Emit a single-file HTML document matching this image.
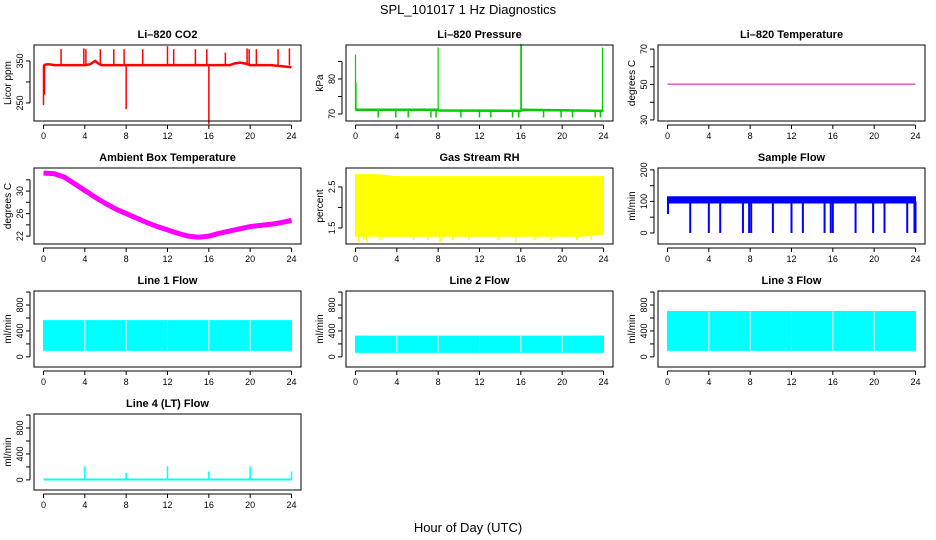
<!DOCTYPE html>
<html><head><meta charset="utf-8">
<style>
html,body{margin:0;padding:0;background:#fff;}
svg{display:block;font-family:"Liberation Sans",Arial,sans-serif;}
</style></head>
<body>
<svg id="c" width="936" height="540" viewBox="0 0 936 540">
<text x="468" y="14" font-size="13" text-anchor="middle">SPL_101017  1 Hz Diagnostics</text>
<text x="468" y="532" font-size="13" text-anchor="middle">Hour of Day (UTC)</text>
</svg>
<script>
// ---- data ----
const hoursXTicks = [0,4,8,12,16,20,24];
const co2BaseHours = [0,0.3,0.6,1,2,3,4,4.5,5,5.3,5.6,6,8,10,12,14,16,18,18.5,19,19.5,20,22,24];
const co2BaseVals  = [340,342,342,340,340,340,340,342,350,344,340,340,340,340,340,340,340,340,344,346,344,340,340,335];
const co2SpikeHours = [0,0.1,1.7,3.9,4.1,5.5,6.8,7.8,8.0,9.6,12.0,12.6,14.7,15.8,16.0,17.6,19.7,19.9,20.6,22.7,23.8];
const co2SpikeVals  = [245,270,378,380,378,378,378,378,235,378,385,378,378,378,200,370,380,378,378,378,380];
const presBaseHours = [0,8,8.1,16,16.1,24];
const presBaseVals  = [71.2,71.2,71.0,70.9,71.2,70.9];
const presSpikeHours = [0,0.05,8.0,16.0,16.05,23.9];
const presSpikeVals  = [87,79,89,90,89.5,89];
const presDipHours = [2.2,3.9,5.1,7.3,7.8,10.2,12.0,13.1,15.2,15.8,18.2,19.9,21.0,23.2,23.7];
const presDipVals  = [69,69,69,69,69,69,69,69,69,69,69,69,69,69,69];
const tempHours = [0,24];
const tempVals  = [50.2,50.2];
const ambHours = [0,1,2,3,4,5,6,7,8,9,10,11,12,13,14,15,16,17,18,19,20,21,22,23,24];
const ambVals  = [33.2,33.1,32.5,31.3,30.1,28.9,27.8,26.8,26.0,25.2,24.4,23.7,23.1,22.5,22.0,21.8,22.0,22.5,22.9,23.3,23.7,23.9,24.1,24.4,24.8];
const rhHours = [0,2,4,6,8,10,12,14,16,18,20,22,24];
const rhHigh  = [2.8,2.8,2.75,2.75,2.75,2.75,2.75,2.75,2.75,2.75,2.75,2.75,2.75];
const rhLow   = [1.3,1.3,1.3,1.3,1.3,1.3,1.3,1.3,1.3,1.3,1.3,1.3,1.35];
const rhDipHours = [0.3,0.8,1.1,2.4,3.5,5.6,7.0,8.2,9.4,11.0,13.8,15.5,17.3,18.9,21.4,22.8];
const rhDipVals  = [1.15,1.2,1.15,1.2,1.25,1.2,1.2,1.15,1.2,1.2,1.2,1.15,1.2,1.2,1.2,1.2];
const sfHours = [0,0.2,24];
const sfLow   = [95,95,95];
const sfHigh  = [115,115,115];
const sfDropHours = [0.05,2.2,4.0,5.1,7.3,7.9,8.1,10.2,12.0,13.1,15.2,15.8,16.0,18.2,19.9,21.0,23.2,23.9,24.0];
const sfDropVals  = [60,0,0,0,0,0,0,0,0,0,0,0,0,0,0,0,0,0,0];
const l1Hours = [0,24];
const l1Low   = [100,100];
const l1High  = [560,560];
const l1GapHours = [4,8,12,16,20];
const l2Hours = [0,24];
const l2Low   = [70,70];
const l2High  = [320,320];
const l2GapHours = [4,8,12,16,20];
const l3Hours = [0,24];
const l3Low   = [100,100];
const l3High  = [700,700];
const l3GapHours = [4,8,12,16,20];
const l4Hours = [0,24];
const l4Vals  = [5,5];
const l4SpikeHours = [4,8,12,16,20,24];
const l4SpikeVals  = [210,110,210,130,210,130];

const svg = document.getElementById('c');
const NS = 'http://www.w3.org/2000/svg';
const COLS=[34,346,658], ROWS=[45,168,291,414], W=267, H=76;
function mk(tag, attrs, parent){const e=document.createElementNS(NS,tag);for(const k in attrs)e.setAttribute(k,attrs[k]);(parent||svg).appendChild(e);return e;}

function panel(name,col,row,title,ylab,ylim,ticks,labels){
  const g=mk('g',{});
  
  
  const L=COLS[col],T=ROWS[row];
  const xs=h=>L+9.5+h*(248/24);
  const ys=v=>T+H-(v-ylim[0])/(ylim[1]-ylim[0])*H;
  const t=mk('text',{x:L+W/2,y:T-7,'font-size':11,'font-weight':'bold','text-anchor':'middle'},g);t.textContent=title;
  
  
  const yt=mk('text',{x:0,y:0,'font-size':10,'text-anchor':'middle',transform:`translate(${L-23},${T+H/2}) rotate(-90)`},g);yt.textContent=ylab;
  
  
  // x axis
  mk('line',{x1:xs(0),x2:xs(24),y1:T+H+4,y2:T+H+4,stroke:'#000'},g);
  hoursXTicks.forEach(h=>{
    mk('line',{x1:xs(h),x2:xs(h),y1:T+H+4,y2:T+H+8,stroke:'#000'},g);
    const tx=mk('text',{x:xs(h),y:T+H+18,'font-size':9,'text-anchor':'middle'},g);tx.textContent=h;
    
    
  });
  // y axis
  mk('line',{x1:L-4,x2:L-4,y1:ys(ticks[0]),y2:ys(ticks[ticks.length-1]),stroke:'#000'},g);
  ticks.forEach(v=>{mk('line',{x1:L-8,x2:L-4,y1:ys(v),y2:ys(v),stroke:'#000'},g);});
  labels.forEach(v=>{
    const ty=mk('text',{x:0,y:0,'font-size':9,'text-anchor':'middle',transform:`translate(${L-11},${ys(v)}) rotate(-90)`},g);ty.textContent=v;
    
    
  });
  const plot=mk('g',{},g);
  
  
  const box=mk('rect',{x:L,y:T,width:W,height:H,fill:'none',stroke:'#000'},g);
  return {xs,ys,plot,L,T};
}
function line(p,hs,vs,color,w,name){
  const pl=mk('polyline',{points:hs.map((h,i)=>p.xs(h)+','+p.ys(vs[i])).join(' '),fill:'none',stroke:color,'stroke-width':w},p.plot);
  
  
}
function spikes(p,hs,vs,base,color,w,name){
  hs.forEach((h,i)=>{
    const l=mk('line',{x1:p.xs(h),x2:p.xs(h),y1:p.ys(base),y2:p.ys(vs[i]),stroke:color,'stroke-width':w},p.plot);
    
    
  });
}
function band(p,hs,lo,hi,color,name){
  const pts=hs.map((h,i)=>p.xs(h)+','+p.ys(hi[i])).concat(hs.slice().reverse().map((h,j)=>p.xs(h)+','+p.ys(lo[hs.length-1-j])));
  const pg=mk('polygon',{points:pts.join(' '),fill:color,stroke:color},p.plot);
  
  
}

// CO2
let p=panel('co2',0,0,'Li–820 CO2','Licor ppm',[207,388],[250,300,350],[250,350]);
line(p,co2BaseHours,co2BaseVals,'#f00',2.5,'co2-line');
spikes(p,co2SpikeHours,co2SpikeVals,340,'#f00',1.5,'co2-spike');
// Pressure
p=panel('pressure',1,0,'Li–820 Pressure','kPa',[68,89.7],[70,75,80,85],[70,80]);
line(p,presBaseHours,presBaseVals,'#0c0',2.5,'pressure-line');
spikes(p,presSpikeHours,presSpikeVals,71,'#0c0',1.2,'pressure-spike');
spikes(p,presDipHours,presDipVals,71,'#0c0',1.5,'pressure-dip');
// Temperature
p=panel('li820-temp',2,0,'Li–820 Temperature','degrees C',[29.4,72.3],[30,40,50,60,70],[30,50,70]);
line(p,tempHours,tempVals,'#c0c',1,'li820-temp-line');
// Ambient
p=panel('ambient',0,1,'Ambient Box Temperature','degrees C',[20.6,34.1],[22,24,26,28,30,32],[22,26,30]);
line(p,ambHours,ambVals,'#f0f',5,'ambient-line');
// RH
p=panel('rh',1,1,'Gas Stream RH','percent',[1.11,2.96],[1.5,2,2.5],[1.5,2.5]);
band(p,rhHours,rhLow,rhHigh,'#ff0','rh-band');
spikes(p,rhDipHours,rhDipVals,1.4,'#ff0',1.5,'rh-dip');
// Sample flow
p=panel('sample-flow',2,1,'Sample Flow','ml/min',[-35,206],[0,50,100,150,200],[0,100,200]);
band(p,sfHours,sfLow,sfHigh,'#00f','sample-flow-band');
spikes(p,sfDropHours,sfDropVals,100,'#00f',2,'sample-flow-drop');
// Line flows
const flowTicks=[0,200,400,600,800,1000], flowLabels=[0,400,800], flowLim=[-156,1016];
p=panel('line1-flow',0,2,'Line 1 Flow','ml/min',flowLim,flowTicks,flowLabels);
band(p,l1Hours,l1Low,l1High,'#0ff','line1-band');
spikes(p,l1GapHours,l1GapHours.map(()=>l1High[0]),l1Low[0],'#fff',1,'line1-gap');
p=panel('line2-flow',1,2,'Line 2 Flow','ml/min',flowLim,flowTicks,flowLabels);
band(p,l2Hours,l2Low,l2High,'#0ff','line2-band');
spikes(p,l2GapHours,l2GapHours.map(()=>l2High[0]),l2Low[0],'#fff',1,'line2-gap');
p=panel('line3-flow',2,2,'Line 3 Flow','ml/min',flowLim,flowTicks,flowLabels);
band(p,l3Hours,l3Low,l3High,'#0ff','line3-band');
spikes(p,l3GapHours,l3GapHours.map(()=>l3High[0]),l3Low[0],'#fff',1,'line3-gap');
p=panel('line4-flow',0,3,'Line 4 (LT) Flow','ml/min',flowLim,flowTicks,flowLabels);
line(p,l4Hours,l4Vals,'#0ff',2,'line4-line');
spikes(p,l4SpikeHours,l4SpikeVals,5,'#0ff',1.5,'line4-spike');
</script>
</body></html>
